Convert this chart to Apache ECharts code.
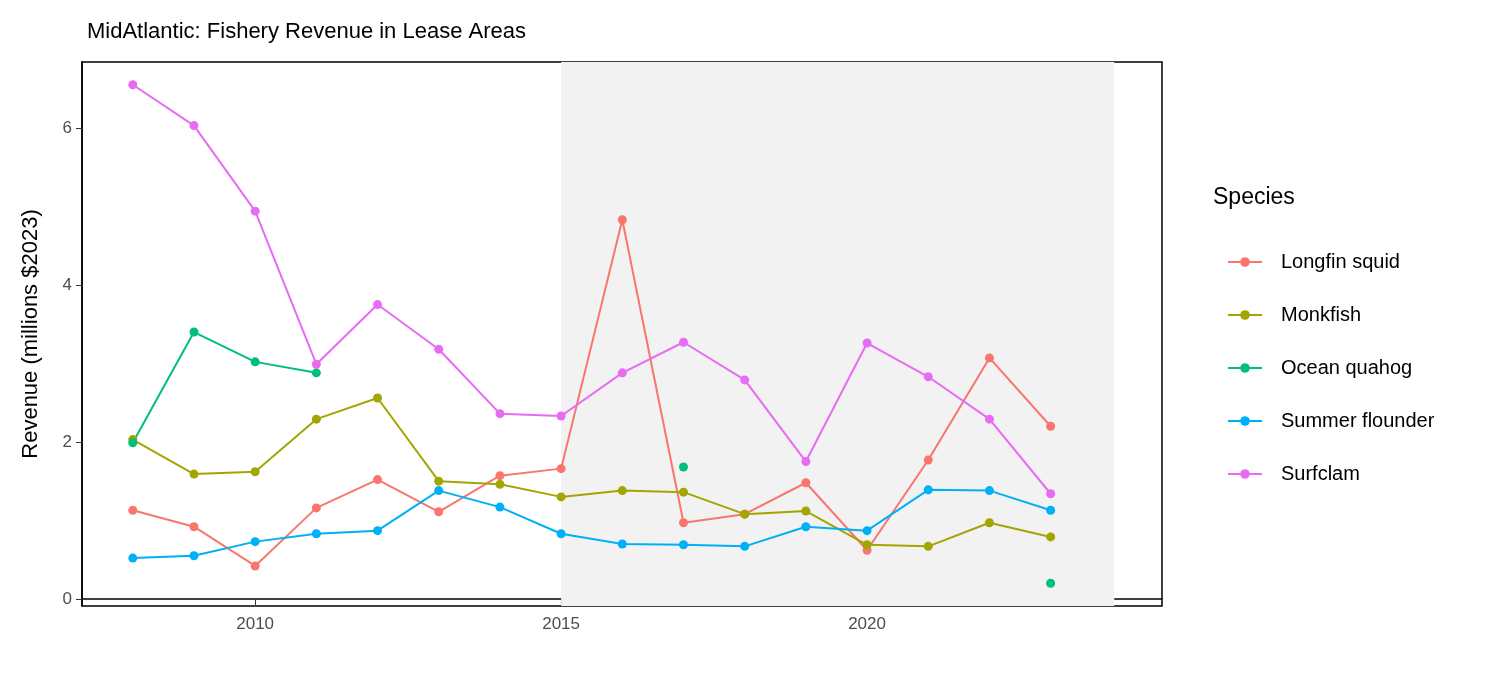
<!DOCTYPE html>
<html><head><meta charset="utf-8">
<script src="https://cdn.jsdelivr.net/npm/echarts@6/dist/echarts.min.js"></script>
<style>body{margin:0}#c{width:1512px;height:680px}</style></head>
<body><div id="c"></div>
<script>
const years=[2008,2009,2010,2011,2012,2013,2014,2015,2016,2017,2018,2019,2020,2021,2022,2023];
const longfin=[1.13,0.92,0.42,1.16,1.52,1.11,1.57,1.66,4.83,0.97,1.08,1.48,0.62,1.77,3.07,2.2];
const monkfish=[2.03,1.59,1.62,2.29,2.56,1.5,1.46,1.3,1.38,1.36,1.08,1.12,0.69,0.67,0.97,0.79];
const quahog=[1.99,3.4,3.02,2.88,null,null,null,null,null,1.68,null,null,null,null,null,0.2];
const flounder=[0.52,0.55,0.73,0.83,0.87,1.38,1.17,0.83,0.7,0.69,0.67,0.92,0.87,1.39,1.38,1.13];
const surfclam=[6.55,6.03,4.94,2.99,3.75,3.18,2.36,2.33,2.88,3.27,2.79,1.75,3.26,2.83,2.29,1.34];
const names=['Longfin squid','Monkfish','Ocean quahog','Summer flounder','Surfclam'];
const colors=['#F8766D','#A3A500','#00BF7D','#00B0F6','#E76BF3'];
const all=[longfin,monkfish,quahog,flounder,surfclam];
const F='Arial, Liberation Sans, sans-serif';
const series=all.map((v,i)=>({name:names[i],type:'line',data:years.map((y,j)=>[y,v[j]]),
 connectNulls:false,symbol:'circle',symbolSize:9,showSymbol:true,color:colors[i],
 lineStyle:{width:2,color:colors[i]},itemStyle:{color:colors[i]},z:3}));
series[0].markArea={silent:true,itemStyle:{color:'#f2f2f2'},data:[[{xAxis:2015},{xAxis:2024.04}]],z:1};
const chart=echarts.init(document.getElementById('c'));
chart.setOption({
 animation:false,
 title:{text:'MidAtlantic: Fishery Revenue in Lease Areas',left:82,top:16,textStyle:{fontFamily:F,fontSize:22,fontWeight:'normal',color:'#000'}},
 grid:{left:82,right:350,top:62,bottom:74,show:true,borderColor:'#000',borderWidth:1.5,backgroundColor:'transparent'},
 xAxis:{type:'value',min:2007.17,max:2024.82,splitLine:{show:false},axisLine:{show:true,lineStyle:{color:'#000',width:1.5}},
  axisTick:{show:true,inside:false,customValues:[2010,2015,2020],length:6,lineStyle:{color:'#333'}},
  axisLabel:{customValues:[2010,2015,2020],formatter:v=>String(v),fontFamily:F,fontSize:17,color:'#4d4d4d',margin:10}},
 yAxis:{type:'value',min:-0.09,max:6.84,splitLine:{show:false},axisLine:{show:true,lineStyle:{color:'#000',width:1.5}},
  name:'Revenue (millions $2023)',nameLocation:'middle',nameGap:40,nameTextStyle:{fontFamily:F,fontSize:22,color:'#000'},
  axisTick:{show:true,inside:false,customValues:[0,2,4,6],length:6,lineStyle:{color:'#333'}},
  axisLabel:{customValues:[0,2,4,6],fontFamily:F,fontSize:17,color:'#4d4d4d',margin:10}},
 legend:{orient:'vertical',left:1222,top:247,itemGap:33,itemWidth:34,itemHeight:12,data:names,
  textStyle:{fontFamily:F,fontSize:20,color:'#000',padding:[0,0,0,14]}},
 graphic:[{type:'text',left:1213,top:186,style:{text:'Species',font:'23px '+F,fill:'#000'}}],
 series
});
</script></body></html>
